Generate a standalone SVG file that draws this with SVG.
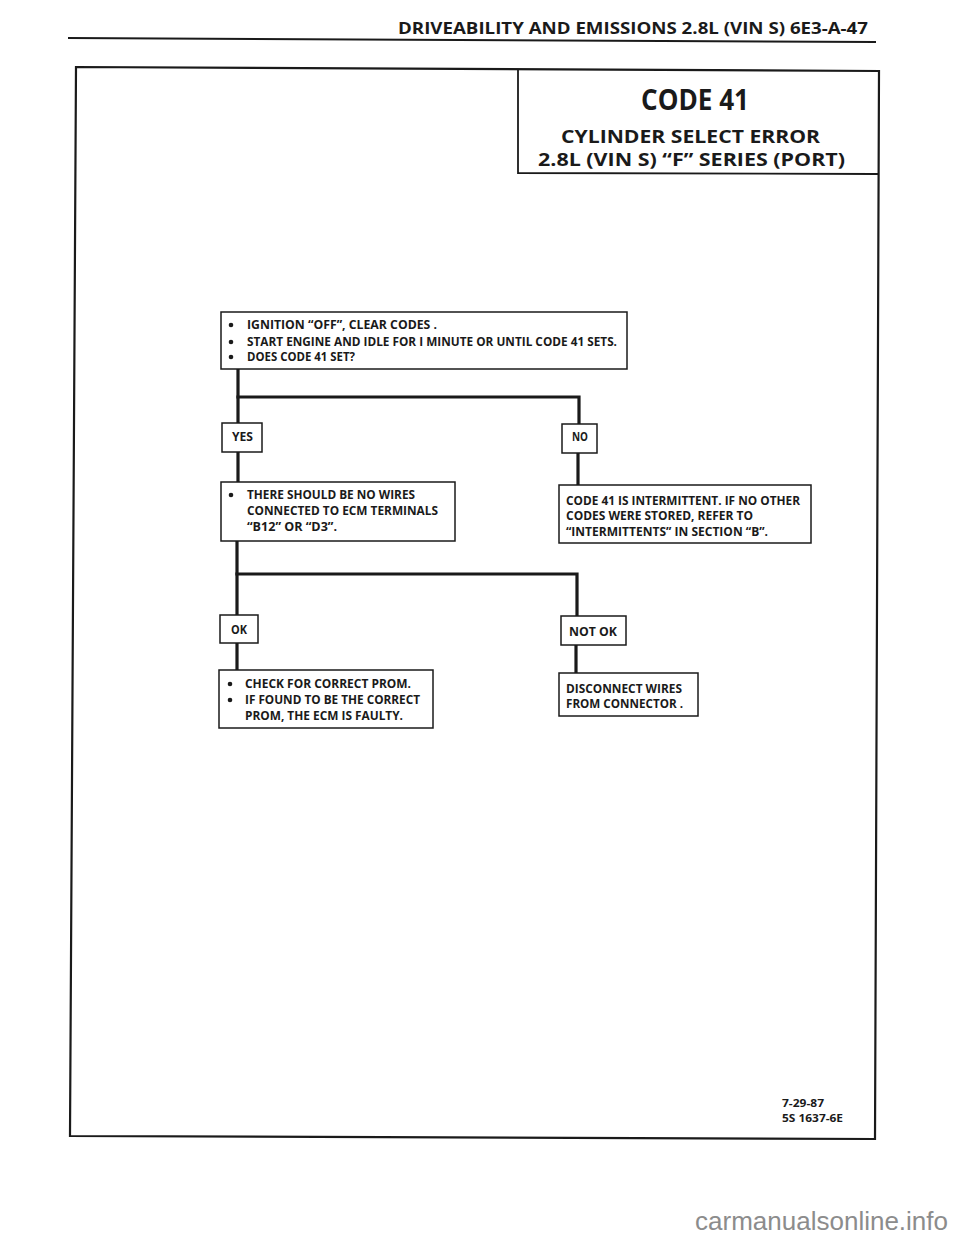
<svg xmlns="http://www.w3.org/2000/svg" width="960" height="1242" viewBox="0 0 960 1242">
<style>
.t{font-family:"Open Sans","Liberation Sans",sans-serif;font-weight:700;fill:#1a1a1a}
.b{font-size:11.5px}
.box{fill:#fff;stroke:#1a1a1a;stroke-width:1.5}
.con{fill:none;stroke:#1a1a1a;stroke-width:3.2;stroke-linecap:square}
.dot{fill:#1a1a1a}
</style>
<rect width="960" height="1242" fill="#fff"/>
<g id="page">
<line x1="68" y1="38" x2="876" y2="42" stroke="#1a1a1a" stroke-width="2"/>
<text class="t" x="398" y="34" font-size="16.5" textLength="470" lengthAdjust="spacingAndGlyphs">DRIVEABILITY AND EMISSIONS 2.8L (VIN S) 6E3-A-47</text>
<path d="M76,67 L879,71 L875,1139 L70,1136 Z" fill="none" stroke="#1a1a1a" stroke-width="2.2"/>
<text class="t" x="782" y="1107" font-size="11" textLength="42" lengthAdjust="spacingAndGlyphs">7-29-87</text>
<text class="t" x="782" y="1122" font-size="11" textLength="61" lengthAdjust="spacingAndGlyphs">5S 1637-6E</text>
<text x="948" y="1230" text-anchor="end" font-family="'Liberation Sans',sans-serif" font-size="26" fill="#8c8c8c">carmanualsonline.info</text>
</g>
<g id="title">
<path d="M518,70 L518,173 L878,174" fill="none" stroke="#1a1a1a" stroke-width="1.8"/>
<text class="t" x="641" y="110" font-size="28" textLength="108" lengthAdjust="spacingAndGlyphs">CODE 41</text>
<text class="t" x="561" y="143" font-size="18.5" textLength="259" lengthAdjust="spacingAndGlyphs">CYLINDER SELECT ERROR</text>
<text class="t" x="538" y="166" font-size="18.5" textLength="307" lengthAdjust="spacingAndGlyphs">2.8L (VIN S) “F” SERIES (PORT)</text>
</g>
<g id="connectors">
<polyline class="con" points="238,370 238,423"/>
<polyline class="con" points="238,397 579,397 579,424"/>
<polyline class="con" points="238,452 238,482"/>
<polyline class="con" points="578,453 578,485"/>
<polyline class="con" points="237,541 237,615"/>
<polyline class="con" points="237,574 577,574 577,616"/>
<polyline class="con" points="237,643 237,670"/>
<polyline class="con" points="576,645 576,673"/>
</g>
<g id="n1">
<rect class="box" x="221" y="312" width="406" height="57"/>
<circle class="dot" cx="231" cy="325" r="2.3"/>
<circle class="dot" cx="231" cy="342" r="2.3"/>
<circle class="dot" cx="231" cy="357" r="2.3"/>
<text class="t b" x="247" y="329" textLength="190" lengthAdjust="spacingAndGlyphs">IGNITION “OFF”, CLEAR CODES .</text>
<text class="t b" x="247" y="346" textLength="370" lengthAdjust="spacingAndGlyphs">START ENGINE AND IDLE FOR I MINUTE OR UNTIL CODE 41 SETS.</text>
<text class="t b" x="247" y="361" textLength="108" lengthAdjust="spacingAndGlyphs">DOES CODE 41 SET?</text>
</g>
<g id="yes">
<rect class="box" x="222" y="423" width="40" height="29"/>
<text class="t b" x="232" y="441" textLength="21" lengthAdjust="spacingAndGlyphs">YES</text>
</g>
<g id="no">
<rect class="box" x="562" y="424" width="35" height="29"/>
<text class="t b" x="572" y="441" textLength="16" lengthAdjust="spacingAndGlyphs">NO</text>
</g>
<g id="n2">
<rect class="box" x="221" y="482" width="234" height="59"/>
<circle class="dot" cx="231" cy="495" r="2.3"/>
<text class="t b" x="247" y="499" textLength="168" lengthAdjust="spacingAndGlyphs">THERE SHOULD BE NO WIRES</text>
<text class="t b" x="247" y="515" textLength="191" lengthAdjust="spacingAndGlyphs">CONNECTED TO ECM TERMINALS</text>
<text class="t b" x="247" y="531" textLength="90" lengthAdjust="spacingAndGlyphs">“B12” OR “D3”.</text>
</g>
<g id="n3">
<rect class="box" x="559" y="485" width="252" height="58"/>
<text class="t b" x="566" y="505" textLength="234" lengthAdjust="spacingAndGlyphs">CODE 41 IS INTERMITTENT.  IF NO OTHER</text>
<text class="t b" x="566" y="520" textLength="187" lengthAdjust="spacingAndGlyphs">CODES WERE STORED, REFER TO</text>
<text class="t b" x="566" y="536" textLength="202" lengthAdjust="spacingAndGlyphs">“INTERMITTENTS” IN SECTION “B”.</text>
</g>
<g id="ok">
<rect class="box" x="220" y="615" width="38" height="28"/>
<text class="t b" x="231" y="634" textLength="16" lengthAdjust="spacingAndGlyphs">OK</text>
</g>
<g id="notok">
<rect class="box" x="561" y="616" width="65" height="29"/>
<text class="t b" x="569" y="636" textLength="48" lengthAdjust="spacingAndGlyphs">NOT OK</text>
</g>
<g id="n4">
<rect class="box" x="219" y="670" width="214" height="58"/>
<circle class="dot" cx="230" cy="684" r="2.3"/>
<circle class="dot" cx="230" cy="700" r="2.3"/>
<text class="t b" x="245" y="688" textLength="166" lengthAdjust="spacingAndGlyphs">CHECK FOR CORRECT PROM.</text>
<text class="t b" x="245" y="704" textLength="175" lengthAdjust="spacingAndGlyphs">IF FOUND TO BE THE CORRECT</text>
<text class="t b" x="245" y="720" textLength="158" lengthAdjust="spacingAndGlyphs">PROM, THE ECM IS FAULTY.</text>
</g>
<g id="n5">
<rect class="box" x="559" y="673" width="139" height="43"/>
<text class="t b" x="566" y="693" textLength="116" lengthAdjust="spacingAndGlyphs">DISCONNECT WIRES</text>
<text class="t b" x="566" y="708" textLength="117" lengthAdjust="spacingAndGlyphs">FROM CONNECTOR .</text>
</g>
</svg>
